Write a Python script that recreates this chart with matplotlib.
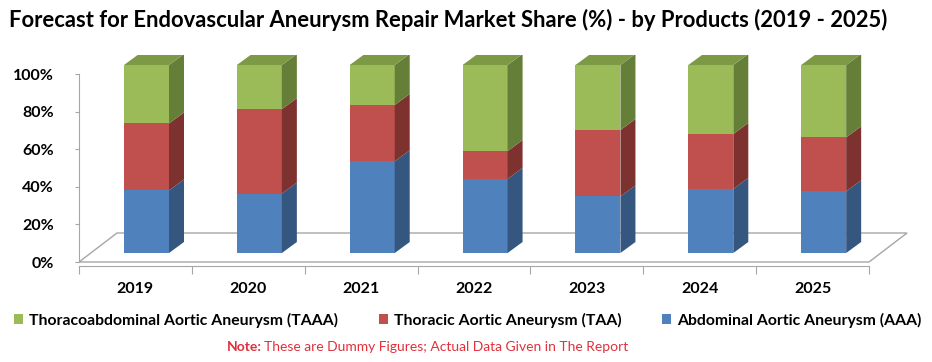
import numpy as np
import matplotlib
matplotlib.use("Agg")
import matplotlib.pyplot as plt
from matplotlib.patches import Polygon, Rectangle, Patch

plt.rcParams['font.family'] = ['Lato', 'DejaVu Sans']

# data (share in %)
years = ['2019', '2020', '2021', '2022', '2023', '2024', '2025']
aaa = [33.3, 31.6, 48.8, 39.4, 30.1, 34.1, 32.8]
taa = [35.6, 44.9, 29.9, 14.8, 35.3, 29.2, 28.7]
taaa = [31.1, 23.5, 21.3, 45.8, 34.6, 36.7, 38.5]

names = ['Abdominal Aortic Aneurysm (AAA)', 'Thoracic Aortic Aneurysm (TAA)',
         'Thoracoabdominal Aortic Aneurysm (TAAA)']
front = ['#4F81BD', '#C0504D', '#9BBB59']
side = ['#35567F', '#7D3230', '#667F38']
top = ['#3F6799', '#9A403D', '#7C9A45']

# pseudo 3d geometry (data units)
W, H = 932, 362
px_x, px_y = 112.86, 1.88        # pixels per category / per percent
bar_off, bar_w, bar_y0 = 45 / px_x, 45 / px_x, 9 / px_y
sdx, sdy = 15 / px_x, 11 / px_y
fdx, fdy = 38 / px_x, 29 / px_y
xmax, ymin, ymax = 7.45, -2, 110

fig = plt.figure(figsize=(W / 100, H / 100), dpi=100)
ax = fig.add_axes([79 / W, (H - (262 - ymin * px_y)) / H,
                   xmax * px_x / W, (ymax - ymin) * px_y / H])
ax.set_xlim(0, xmax)
ax.set_ylim(ymin, ymax)

grey = '#A6A6A6'
n = len(years)
# floor
ax.add_patch(Polygon([(0, 0), (n, 0), (n + fdx, fdy), (fdx, fdy)], closed=True,
                     facecolor='white', edgecolor=grey, lw=1, zorder=1))

series = [aaa, taa, taaa]
for i in range(n):
    x0 = i + bar_off
    base = bar_y0
    for k, vals in enumerate(series):
        v = vals[i]
        ax.add_patch(Rectangle((x0, base), bar_w, v, facecolor=front[k],
                               edgecolor='none', zorder=3))
        ax.add_patch(Polygon([(x0 + bar_w, base), (x0 + bar_w + sdx, base + sdy),
                              (x0 + bar_w + sdx, base + v + sdy), (x0 + bar_w, base + v)],
                             closed=True, facecolor=side[k], edgecolor='none', zorder=3))
        base += v
    ax.add_patch(Polygon([(x0, base), (x0 + bar_w, base), (x0 + bar_w + sdx, base + sdy),
                          (x0 + sdx, base + sdy)], closed=True, facecolor=top[2],
                         edgecolor='none', zorder=3))

for s in ['top', 'right']:
    ax.spines[s].set_visible(False)
ax.spines['left'].set_bounds(0, 100)
ax.spines['bottom'].set_bounds(0, n)
for s in ['left', 'bottom']:
    ax.spines[s].set_color(grey)
    ax.spines[s].set_zorder(2)

ax.set_yticks(np.arange(0, 101, 20))
ax.set_yticklabels([f'{t}%' for t in range(0, 101, 20)])
ax.tick_params(axis='y', length=3, color=grey, pad=15, labelsize=11.5)
ax.set_xticks(np.arange(0, n + 1))
ax.set_xticklabels([])
ax.tick_params(axis='x', which='major', length=6, color=grey)
ax.set_xticks(np.arange(n) + 0.5, minor=True)
ax.set_xticklabels(years, minor=True)
ax.tick_params(axis='x', which='minor', length=0, pad=12, labelsize=11.5)
for lab in ax.get_xticklabels(minor=True) + ax.get_yticklabels():
    lab.set_fontweight('bold')

fig.text(448 / W, 1 - 20 / H, 'Forecast for Endovascular Aneurysm Repair Market Share (%) - by Products (2019 - 2025)',
         ha='center', va='center', fontsize=15.8, fontweight='bold')

handles = [Patch(facecolor=front[k]) for k in [2, 1, 0]]
fig.legend(handles, [names[k] for k in [2, 1, 0]], ncol=3, loc='center',
           bbox_to_anchor=(468 / W, 1 - 320 / H), frameon=False,
           prop={'weight': 'bold', 'size': 11.3}, handlelength=0.55, handleheight=0.6,
           handletextpad=0.4, columnspacing=2.6)

fig.text(262 / W, 1 - 347 / H, 'Note:', ha='right', va='center', color='#E0313B',
         fontsize=10, fontweight='bold')
fig.text(264 / W, 1 - 347 / H, 'These are Dummy Figures; Actual Data Given in The Report',
         ha='left', va='center', color='#E0313B', fontsize=10)

fig.savefig('out.png', dpi=100)
